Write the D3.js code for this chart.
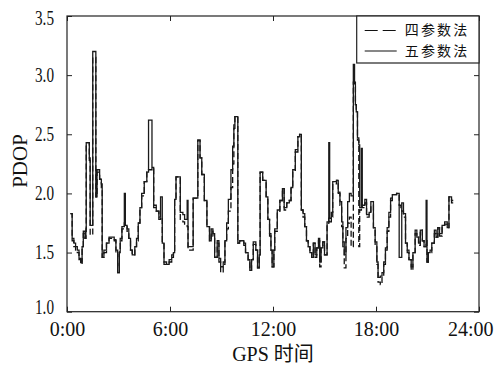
<!DOCTYPE html>
<html>
<head>
<meta charset="utf-8">
<script src="https://cdn.jsdelivr.net/npm/d3@7"></script>
<style>
  body { margin: 0; background: #fff; }
  text { font-family: "Liberation Serif", "Times New Roman", "Noto Sans CJK SC", serif; fill: #111; }
</style>
</head>
<body>
<svg id="chart" width="497" height="366"></svg>
<script>
// GPS time (hours) and PDOP for the two methods
const hours = [
  0.20, 0.30, 0.40, 0.50, 0.60, 0.70, 0.80, 0.88, 0.95, 1.05,
  1.10, 1.12, 1.30, 1.35, 1.50, 1.68, 1.75, 1.90, 2.00, 2.05,
  2.15, 2.30, 2.45, 2.75, 2.85, 2.95, 3.05, 3.10, 3.20, 3.34,
  3.40, 3.50, 3.60, 3.70, 3.80, 3.95, 4.05, 4.15, 4.25, 4.35,
  4.50, 4.65, 4.75, 4.95, 5.05, 5.20, 5.35, 5.45, 5.55, 5.65,
  5.80, 5.95, 6.10, 6.20, 6.27, 6.35, 6.60, 6.75, 6.85, 7.00,
  7.05, 7.35, 7.62, 7.75, 7.85, 8.00, 8.15, 8.30, 8.40, 8.50,
  8.60, 8.75, 8.85, 8.95, 9.10, 9.20, 9.30, 9.40, 9.55, 9.65,
  9.72, 9.78, 9.95, 10.05, 10.30, 10.40, 10.55, 10.65, 10.75, 10.85,
  11.00, 11.10, 11.20, 11.25, 11.40, 11.60, 11.70, 11.80, 11.88, 11.95,
  12.05, 12.10, 12.25, 12.40, 12.55, 12.65, 12.80, 12.95, 13.05, 13.15,
  13.30, 13.45, 13.55, 13.65, 13.75, 13.85, 13.95, 14.05, 14.15, 14.25,
  14.35, 14.45, 14.55, 14.65, 14.72, 14.80, 14.90, 15.00, 15.15, 15.25,
  15.30, 15.40, 15.48, 15.70, 15.80, 15.90, 16.00, 16.07, 16.15, 16.25,
  16.35, 16.45, 16.55, 16.68, 16.75, 16.80, 16.85, 16.92, 17.00, 17.05,
  17.15, 17.20, 17.35, 17.45, 17.60, 17.70, 17.85, 17.95, 18.05, 18.12,
  18.25, 18.35, 18.45, 18.55, 18.65, 18.75, 18.85, 18.95, 19.20, 19.35,
  19.45, 19.50, 19.60, 19.72, 19.82, 19.92, 20.05, 20.15, 20.28, 20.38,
  20.48, 20.58, 20.70, 20.80, 20.92, 20.97, 21.05, 21.15, 21.25, 21.40,
  21.50, 21.60, 21.70, 21.85, 22.00, 22.15, 22.25, 22.40, 22.50
];

const fiveParam = [
  1.83, 1.62, 1.58, 1.55, 1.52, 1.45, 1.42, 1.55, 1.68, 1.62,
  1.70, 2.43, 2.30, 1.73, 3.20, 1.97, 2.20, 2.12, 2.08, 1.46,
  1.52, 1.58, 1.63, 1.61, 1.52, 1.33, 1.50, 1.62, 1.72, 2.00,
  1.73, 1.70, 1.62, 1.52, 1.48, 1.55, 1.62, 1.75, 1.88, 2.00,
  2.10, 2.18, 2.62, 2.22, 1.90, 1.85, 1.80, 1.97, 1.58, 1.42,
  1.40, 1.44, 1.48, 1.50, 1.95, 2.14, 1.84, 1.82, 1.78, 1.94,
  1.55, 1.96, 2.45, 2.30, 2.16, 1.94, 1.72, 1.60, 1.70, 1.66,
  1.46, 1.60, 1.45, 1.38, 1.42, 1.60, 1.75, 1.95, 2.20, 2.40,
  2.58, 2.65, 1.58, 1.60, 1.58, 1.50, 1.44, 1.35, 1.44, 1.59,
  1.52, 1.37, 1.48, 2.18, 2.11, 1.97, 1.78, 1.66, 1.52, 1.38,
  1.52, 1.70, 1.86, 1.94, 2.04, 1.88, 1.92, 1.94, 2.05, 2.20,
  2.37, 2.48, 2.50, 1.86, 1.83, 1.72, 1.60, 1.55, 1.50, 1.46,
  1.58, 1.48, 1.54, 1.62, 1.42, 1.54, 1.59, 1.48, 1.76, 2.43,
  1.79, 1.84, 2.10, 2.11, 2.01, 1.93, 1.76, 1.59, 1.48, 1.71,
  1.93, 2.00, 1.98, 3.09, 2.94, 2.75, 2.69, 2.47, 2.41, 1.88,
  2.38, 1.90, 1.95, 1.82, 1.84, 1.93, 1.71, 1.59, 1.42, 1.29,
  1.30, 1.33, 1.42, 1.54, 1.71, 1.84, 1.96, 1.99, 2.00, 1.46,
  1.46, 1.92, 1.83, 1.58, 1.52, 1.44, 1.38, 1.50, 1.69, 1.63,
  1.58, 1.69, 1.60, 1.55, 1.94, 1.42, 1.50, 1.52, 1.58, 1.69,
  1.63, 1.71, 1.66, 1.73, 1.76, 1.71, 1.97, 1.94, 1.94
];

const fourParam = [
  1.83, 1.60, 1.55, 1.52, 1.50, 1.44, 1.40, 1.55, 1.66, 1.62,
  1.68, 2.43, 2.28, 1.65, 3.15, 1.97, 2.18, 2.12, 2.05, 1.46,
  1.50, 1.58, 1.62, 1.60, 1.50, 1.33, 1.52, 1.60, 1.70, 1.75,
  1.72, 1.68, 1.62, 1.52, 1.48, 1.55, 1.60, 1.75, 1.88, 1.98,
  2.10, 2.18, 2.20, 2.22, 1.88, 1.85, 1.78, 1.80, 1.58, 1.40,
  1.40, 1.42, 1.46, 1.50, 1.95, 2.14, 1.78, 1.76, 1.74, 1.72,
  1.52, 1.96, 2.45, 2.30, 2.16, 1.94, 1.72, 1.60, 1.68, 1.64,
  1.46, 1.58, 1.42, 1.33, 1.40, 1.60, 1.70, 1.85, 2.05, 2.25,
  2.55, 2.65, 1.58, 1.60, 1.56, 1.50, 1.42, 1.35, 1.44, 1.57,
  1.52, 1.37, 1.48, 2.18, 2.11, 1.95, 1.78, 1.64, 1.52, 1.38,
  1.52, 1.68, 1.84, 1.94, 2.04, 1.86, 1.92, 1.94, 2.05, 2.18,
  2.35, 2.48, 2.50, 1.86, 1.80, 1.72, 1.60, 1.55, 1.50, 1.46,
  1.58, 1.46, 1.54, 1.60, 1.38, 1.54, 1.59, 1.48, 1.74, 1.79,
  1.76, 1.80, 2.08, 2.11, 2.00, 1.90, 1.72, 1.55, 1.37, 1.62,
  1.75, 1.80, 1.55, 2.94, 2.90, 2.75, 2.69, 2.45, 1.55, 1.86,
  1.90, 1.88, 1.92, 1.80, 1.84, 1.90, 1.70, 1.57, 1.40, 1.25,
  1.23, 1.30, 1.40, 1.52, 1.68, 1.80, 1.94, 1.99, 2.00, 1.90,
  1.88, 1.85, 1.80, 1.58, 1.50, 1.44, 1.35, 1.50, 1.66, 1.63,
  1.56, 1.69, 1.60, 1.55, 1.60, 1.42, 1.50, 1.50, 1.58, 1.66,
  1.63, 1.71, 1.64, 1.73, 1.74, 1.71, 1.97, 1.92, 1.92
];

const xTicks = [0, 6, 12, 18, 24];
const xTickLabels = ["0:00", "6:00", "12:00", "18:00", "24:00"];
const yTicks = [1.0, 1.5, 2.0, 2.5, 3.0, 3.5];
const seriesNames = ["四参数法", "五参数法"];

const svg = d3.select("#chart");
const margin = { top: 16, right: 18, bottom: 54.3, left: 67 };
const width = 497 - margin.left - margin.right;
const height = 366 - margin.top - margin.bottom;

const x = d3.scaleLinear().domain([0, 24]).range([0, width]);
const y = d3.scaleLinear().domain([1.0, 3.5]).range([height, 0]);

const g = svg.append("g").attr("transform", `translate(${margin.left},${margin.top})`);

g.append("clipPath").attr("id", "plot-clip")
  .append("rect").attr("width", width).attr("height", height);

// lines
const fourData = hours.map((h, i) => [h, fourParam[i]]);
const fiveData = hours.map((h, i) => [h, fiveParam[i]]);

const line = d3.line()
  .x((d) => x(d[0]))
  .y((d) => y(d[1]))
  .curve(d3.curveStepAfter);

g.append("path")
  .datum(fourData)
  .attr("clip-path", "url(#plot-clip)")
  .attr("fill", "none")
  .attr("stroke", "#111")
  .attr("stroke-width", 1.3)
  .attr("stroke-dasharray", "6,3")
  .attr("d", line);

g.append("path")
  .datum(fiveData)
  .attr("clip-path", "url(#plot-clip)")
  .attr("fill", "none")
  .attr("stroke", "#1a1a1a")
  .attr("stroke-width", 1.3)
  .attr("d", line);

// axes with inward ticks on all four sides
const xAxis = g.append("g")
  .attr("transform", `translate(0,${height})`)
  .call(d3.axisBottom(x).tickValues(xTicks)
    .tickFormat((d, i) => xTickLabels[i])
    .tickSize(-5).tickPadding(10));

xAxis.selectAll("text").attr("font-size", 20).attr("dy", "0.71em");
xAxis.selectAll("text").filter((d) => d === 24)
  .attr("text-anchor", "end").attr("x", 14);

g.append("g")
  .call(d3.axisTop(x).tickValues(xTicks).tickFormat("").tickSize(-5));

const yAxis = g.append("g")
  .call(d3.axisLeft(y).tickValues(yTicks)
    .tickFormat(d3.format(".1f"))
    .tickSize(-5).tickPadding(13));

// the reference tick numbers are narrow; end labels sit slightly inside the frame
yAxis.selectAll("text")
  .attr("font-size", 20)
  .attr("textLength", 19)
  .attr("lengthAdjust", "spacingAndGlyphs")
  .attr("y", (d) => (d === 1.0 ? -5 : d === 3.5 ? 2.5 : 0));

g.append("g")
  .attr("transform", `translate(${width},0)`)
  .call(d3.axisRight(y).tickValues(yTicks).tickFormat("").tickSize(-5));

g.selectAll(".domain").remove();
g.selectAll(".tick line").attr("stroke", "#222").attr("stroke-width", 1);

g.append("rect")
  .attr("width", width).attr("height", height)
  .attr("fill", "none").attr("stroke", "#222").attr("stroke-width", 1.2);

// axis titles
svg.append("text")
  .attr("x", margin.left + width / 2)
  .attr("y", 361)
  .attr("text-anchor", "middle")
  .attr("font-size", 20)
  .text("GPS 时间");

svg.append("text")
  .attr("transform", "translate(27,161) rotate(-90)")
  .attr("text-anchor", "middle")
  .attr("font-size", 21)
  .text("PDOP");

// legend
const legend = g.append("g").attr("transform", `translate(${width - 122.3},0)`);
legend.append("rect")
  .attr("width", 122.3).attr("height", 47)
  .attr("fill", "#fff").attr("stroke", "#222").attr("stroke-width", 1.2);

seriesNames.forEach((name, i) => {
  const ly = 14.5 + i * 20.5;
  legend.append("line")
    .attr("x1", 8).attr("x2", 40)
    .attr("y1", ly).attr("y2", ly)
    .attr("stroke", "#111").attr("stroke-width", 1.2)
    .attr("stroke-dasharray", i === 0 ? "13,5" : null);
  legend.append("text")
    .attr("x", 48).attr("y", ly)
    .attr("dy", "0.35em")
    .attr("font-size", 14)
    .attr("letter-spacing", "2.2px")
    .style("font-family", "'Noto Sans CJK SC', serif")
    .text(name);
});
</script>
</body>
</html>
